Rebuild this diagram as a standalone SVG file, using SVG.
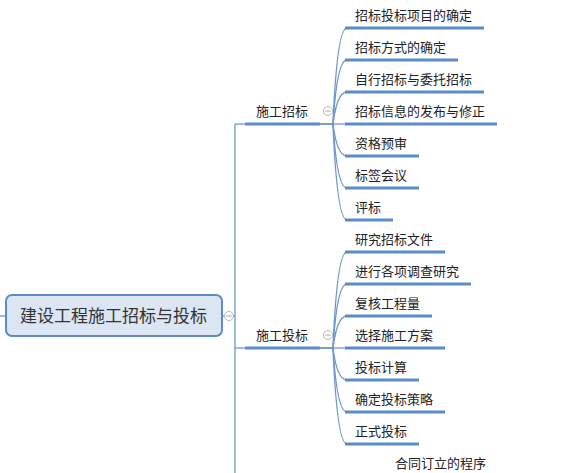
<svg xmlns="http://www.w3.org/2000/svg" width="569" height="473" viewBox="0 0 569 473">
<style>
text{font-family:"Microsoft YaHei","Noto Sans CJK SC",sans-serif;fill:#222;}
.t{font-size:13px;}
.root{font-size:17px;fill:#333;}
.ul{stroke:#5b8bc8;stroke-width:3;fill:none;stroke-linecap:butt;}
.ln{stroke:#6b96cc;stroke-width:1.3;fill:none;}
.col{fill:#fff;stroke:#b0b8c4;stroke-width:1;}
.colm{stroke:#9aa4b0;stroke-width:1;}
</style>
<rect width="569" height="473" fill="#fff"/>
<g id="connectors">
<line class="ln" x1="0" y1="316" x2="6" y2="316"/>
<line class="ln" x1="222" y1="316" x2="235" y2="316"/>
<line class="ln" x1="235" y1="124" x2="235" y2="473"/>
<line class="ln" x1="235" y1="124" x2="245" y2="124"/>
<line class="ln" x1="235" y1="348" x2="245" y2="348"/>
<path class="ln" d="M320,124 L333,124 Q337,28 347,28"/>
<path class="ln" d="M333,124 Q337,60 347,60"/>
<path class="ln" d="M333,124 Q337,92 347,92"/>
<path class="ln" d="M320,124 L347,124"/>
<path class="ln" d="M333,124 Q337,156 347,156"/>
<path class="ln" d="M333,124 Q337,188 347,188"/>
<path class="ln" d="M333,124 Q337,220 347,220"/>
<path class="ln" d="M320,348 L333,348 Q337,252 347,252"/>
<path class="ln" d="M333,348 Q337,284 347,284"/>
<path class="ln" d="M333,348 Q337,316 347,316"/>
<path class="ln" d="M320,348 L347,348"/>
<path class="ln" d="M333,348 Q337,380 347,380"/>
<path class="ln" d="M333,348 Q337,412 347,412"/>
<path class="ln" d="M333,348 Q337,444 347,444"/>
</g>
<g id="root">
<rect x="6" y="295" width="216" height="41" rx="6" fill="#dce6f2" stroke="#5b8bc8" stroke-width="2"/>
<text class="root" x="20" y="322">建设工程施工招标与投标</text>
<circle class="col" cx="229" cy="316" r="4.5"/>
<line class="colm" x1="226.5" y1="316" x2="231.5" y2="316"/>
</g>
<g id="n-zbsg">
<line class="ul" x1="245" y1="124" x2="320" y2="124"/>
<text class="t" x="256" y="116">施工招标</text>
<circle class="col" cx="328" cy="111" r="4.5"/>
<line class="colm" x1="325.5" y1="111" x2="330.5" y2="111"/>
</g>
<g id="n-tbsg">
<line class="ul" x1="245" y1="348" x2="320" y2="348"/>
<text class="t" x="256" y="340">施工投标</text>
<circle class="col" cx="328" cy="335" r="4.5"/>
<line class="colm" x1="325.5" y1="335" x2="330.5" y2="335"/>
</g>
<g id="n-a1"><line class="ul" x1="345" y1="28" x2="484" y2="28"/><text class="t" x="355" y="20">招标投标项目的确定</text></g>
<g id="n-a2"><line class="ul" x1="345" y1="60" x2="458" y2="60"/><text class="t" x="355" y="52">招标方式的确定</text></g>
<g id="n-a3"><line class="ul" x1="345" y1="92" x2="484" y2="92"/><text class="t" x="355" y="84">自行招标与委托招标</text></g>
<g id="n-a4"><line class="ul" x1="345" y1="124" x2="497" y2="124"/><text class="t" x="355" y="116">招标信息的发布与修正</text></g>
<g id="n-a5"><line class="ul" x1="345" y1="156" x2="419" y2="156"/><text class="t" x="355" y="148">资格预审</text></g>
<g id="n-a6"><line class="ul" x1="345" y1="188" x2="419" y2="188"/><text class="t" x="355" y="180">标签会议</text></g>
<g id="n-a7"><line class="ul" x1="345" y1="220" x2="393" y2="220"/><text class="t" x="355" y="212">评标</text></g>
<g id="n-b1"><line class="ul" x1="345" y1="252" x2="445" y2="252"/><text class="t" x="355" y="244">研究招标文件</text></g>
<g id="n-b2"><line class="ul" x1="345" y1="284" x2="471" y2="284"/><text class="t" x="355" y="276">进行各项调查研究</text></g>
<g id="n-b3"><line class="ul" x1="345" y1="316" x2="432" y2="316"/><text class="t" x="355" y="308">复核工程量</text></g>
<g id="n-b4"><line class="ul" x1="345" y1="348" x2="445" y2="348"/><text class="t" x="355" y="340">选择施工方案</text></g>
<g id="n-b5"><line class="ul" x1="345" y1="380" x2="419" y2="380"/><text class="t" x="355" y="372">投标计算</text></g>
<g id="n-b6"><line class="ul" x1="345" y1="412" x2="445" y2="412"/><text class="t" x="355" y="404">确定投标策略</text></g>
<g id="n-b7"><line class="ul" x1="345" y1="444" x2="419" y2="444"/><text class="t" x="355" y="436">正式投标</text></g>
<g id="n-htdl"><text class="t" x="395" y="468">合同订立的程序</text></g>
</svg>
